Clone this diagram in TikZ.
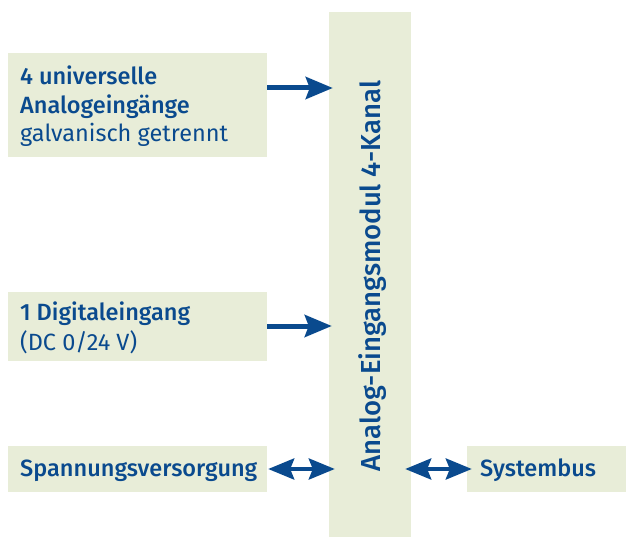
\documentclass[tikz,border=0pt]{standalone}
\usepackage{fontspec}
\setmainfont{Fira Sans}[BoldFont={Fira Sans Medium}]
\usepackage{tikz}
\usetikzlibrary{arrows.meta}

\definecolor{boxfill}{HTML}{E8EDD8}
\definecolor{blau}{HTML}{0A4A8E}

\tikzset{
	kasten/.style={fill=boxfill, inner sep=0pt},
	schrift/.style={text=blau, inner sep=0pt, align=left, font=\fontsize{23.5}{28.5}\selectfont},
	pfeil/.style={draw=blau, line width=5pt, -{Stealth[length=27pt,width=22pt,inset=4pt]}},
	doppelpfeil/.style={draw=blau, line width=4pt, {Stealth[length=26pt,width=21pt,inset=4pt]}-{Stealth[length=26pt,width=21pt,inset=4pt]}}
}

\begin{document}
\begin{tikzpicture}[x=1pt, y=-1pt]
	\useasboundingbox (0, 0) rectangle (626, 537);

	\node [kasten, minimum width=82pt, minimum height=525pt] (modul) at (370, 274.5) {};
	\node [schrift, rotate=90, anchor=base, font=\fontsize{27.5}{30}\selectfont\bfseries] (titel) at (380, 276) {Analog-Eingangsmodul 4-Kanal};

	\node [kasten, minimum width=259pt, minimum height=104pt] (ain) at (137.5, 105) {};
	% base anchor = baseline of the last line
	\node [schrift, anchor=base west] (aintext) at (20, 142)
		{\textbf{4 universelle}\\\textbf{Analogeingänge}\\galvanisch getrennt};

	\node [kasten, minimum width=259pt, minimum height=69pt] (din) at (137.5, 326.5) {};
	\node [schrift, anchor=base west, font=\fontsize{23.5}{30}\selectfont] (dintext) at (20, 350)
		{\textbf{1 Digitaleingang}\\(DC 0/24 V)};

	\node [kasten, minimum width=259pt, minimum height=46pt] (supply) at (137.5, 469) {};
	\node [schrift, anchor=base west, font=\fontsize{23.5}{28.5}\selectfont\bfseries] (supplytext) at (20, 476) {Spannungsversorgung};

	\node [kasten, minimum width=159pt, minimum height=46pt] (bus) at (546.5, 469) {};
	\node [schrift, anchor=base west, font=\fontsize{23.5}{28.5}\selectfont\bfseries] (bustext) at (480, 476) {Systembus};

	\draw [pfeil] (ain.east |- 0, 88) -- ([xshift=4pt]modul.west |- 0, 88);
	\draw [pfeil] (din.east |- 0, 326) -- ([xshift=3pt]modul.west |- 0, 326);

	\draw [doppelpfeil] ([xshift=1pt]supply.east) -- ([xshift=6pt]supply.east -| modul.west);
	\draw [doppelpfeil] ([xshift=-6pt]bus.west -| modul.east) -- ([xshift=5pt]bus.west);
\end{tikzpicture}
\end{document}
